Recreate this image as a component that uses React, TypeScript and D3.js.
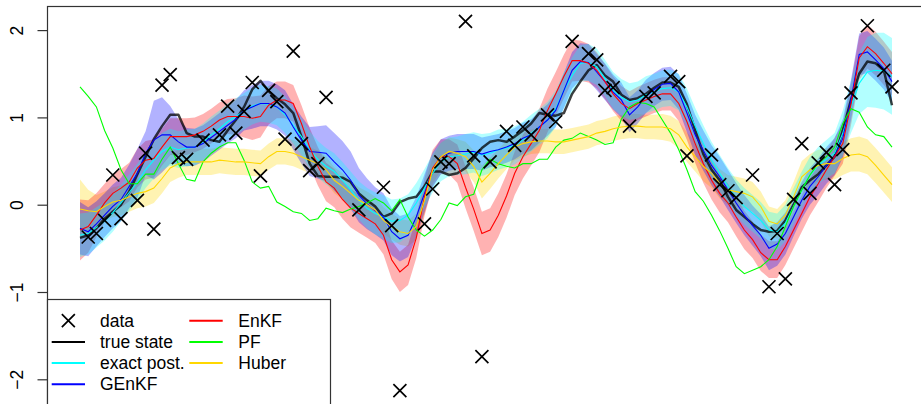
import React, { useEffect, useRef } from "react";
import * as d3 from "d3";

// time steps 1..100, one value per step
const trueState = [
  -0.38, -0.35, -0.27, -0.16, -0.08, 0.0, 0.15, 0.35, 0.55, 0.75,
  0.9, 1.03, 1.03, 0.82, 0.78, 0.78, 0.74, 0.72, 0.85, 0.97,
  1.12, 1.32, 1.42, 1.3, 1.22, 1.15, 1.05, 0.78, 0.47, 0.33,
  0.32, 0.32, 0.31, 0.26, 0.13, 0.05, -0.02, -0.14, -0.1, 0.03,
  0.07, 0.09, 0.21, 0.38, 0.38, 0.34, 0.36, 0.42, 0.53, 0.65,
  0.72, 0.74, 0.72, 0.78, 0.85, 0.93, 1.05, 1.03, 1.02, 1.05,
  1.27, 1.41, 1.54, 1.6, 1.48, 1.41, 1.26, 1.2, 1.22, 1.27,
  1.34, 1.4, 1.4, 1.35, 1.15, 0.85, 0.58, 0.4, 0.28, 0.09,
  -0.06, -0.14, -0.22, -0.29, -0.31, -0.3, -0.18, 0.0, 0.2, 0.28,
  0.35, 0.45, 0.55, 0.85, 1.2, 1.5, 1.64, 1.62, 1.54, 1.14,
];

const exactPost = [
  -0.35, -0.33, -0.26, -0.19, -0.09, 0.02, 0.14, 0.26, 0.4, 0.51,
  0.61, 0.66, 0.63, 0.65, 0.66, 0.72, 0.8, 0.87, 0.95, 1.01,
  1.07, 1.13, 1.16, 1.15, 1.12, 1.03, 0.91, 0.78, 0.63, 0.52,
  0.44, 0.38, 0.28, 0.17, 0.05, -0.04, -0.1, -0.14, -0.19, -0.18,
  -0.12, 0.02, 0.19, 0.36, 0.49, 0.55, 0.56, 0.58, 0.6, 0.57,
  0.59, 0.63, 0.65, 0.68, 0.74, 0.82, 0.89, 0.97, 1.1, 1.31,
  1.48, 1.62, 1.63, 1.58, 1.45, 1.31, 1.23, 1.18, 1.2, 1.26,
  1.29, 1.33, 1.34, 1.29, 1.12, 0.9, 0.7, 0.51, 0.36, 0.21,
  0.08, -0.02, -0.1, -0.18, -0.29, -0.31, -0.21, -0.02, 0.17, 0.34,
  0.45, 0.52, 0.59, 0.82, 1.12, 1.39, 1.52, 1.54, 1.53, 1.47,
];
const exactSpread = [
  0.25, 0.24, 0.23, 0.22, 0.22, 0.21, 0.21, 0.21, 0.21, 0.21,
  0.21, 0.21, 0.21, 0.21, 0.21, 0.21, 0.21, 0.21, 0.21, 0.21,
  0.21, 0.21, 0.21, 0.21, 0.21, 0.21, 0.21, 0.21, 0.21, 0.21,
  0.21, 0.21, 0.21, 0.21, 0.22, 0.23, 0.24, 0.25, 0.25, 0.25,
  0.24, 0.23, 0.22, 0.22, 0.22, 0.22, 0.22, 0.23, 0.23, 0.24,
  0.23, 0.23, 0.22, 0.22, 0.21, 0.21, 0.21, 0.21, 0.21, 0.21,
  0.21, 0.21, 0.21, 0.21, 0.21, 0.21, 0.21, 0.21, 0.21, 0.21,
  0.21, 0.21, 0.21, 0.21, 0.21, 0.21, 0.21, 0.21, 0.21, 0.21,
  0.21, 0.21, 0.21, 0.21, 0.21, 0.21, 0.21, 0.21, 0.21, 0.21,
  0.21, 0.22, 0.23, 0.26, 0.3, 0.35, 0.4, 0.43, 0.44, 0.44,
];

const genkf = [
  -0.27, -0.31, -0.22, -0.12, -0.02, 0.06, 0.21, 0.36, 0.59, 0.74,
  0.8, 0.8, 0.72, 0.66, 0.66, 0.7, 0.77, 0.84, 0.91, 0.98,
  1.08, 1.12, 1.16, 1.16, 1.12, 1.05, 0.89, 0.74, 0.61, 0.6,
  0.59, 0.49, 0.4, 0.28, 0.11, 0.01, -0.07, -0.14, -0.31, -0.39,
  -0.35, -0.14, 0.13, 0.4, 0.55, 0.59, 0.61, 0.61, 0.61, 0.58,
  0.61, 0.63, 0.66, 0.7, 0.76, 0.8, 0.89, 0.97, 1.08, 1.31,
  1.54, 1.64, 1.63, 1.52, 1.41, 1.29, 1.2, 1.03, 1.12, 1.24,
  1.32, 1.38, 1.39, 1.29, 1.05, 0.8, 0.62, 0.45, 0.32, 0.17,
  0.02, -0.12, -0.24, -0.35, -0.5, -0.45, -0.33, -0.14, 0.05, 0.21,
  0.32, 0.45, 0.55, 0.76, 1.2, 1.72, 1.75, 1.66, 1.56, 1.41,
];
const genkfSpread = [
  0.3, 0.28, 0.26, 0.25, 0.25, 0.25, 0.25, 0.28, 0.25, 0.45,
  0.43, 0.33, 0.26, 0.22, 0.21, 0.21, 0.21, 0.21, 0.21, 0.22,
  0.23, 0.25, 0.26, 0.26, 0.26, 0.26, 0.26, 0.27, 0.28, 0.3,
  0.32, 0.33, 0.33, 0.33, 0.31, 0.29, 0.27, 0.27, 0.27, 0.26,
  0.25, 0.23, 0.22, 0.2, 0.2, 0.2, 0.2, 0.2, 0.2, 0.19,
  0.18, 0.18, 0.18, 0.18, 0.18, 0.18, 0.18, 0.18, 0.19, 0.2,
  0.21, 0.21, 0.21, 0.21, 0.21, 0.2, 0.2, 0.2, 0.19, 0.19,
  0.19, 0.19, 0.19, 0.2, 0.22, 0.23, 0.23, 0.23, 0.23, 0.23,
  0.23, 0.23, 0.23, 0.24, 0.25, 0.25, 0.24, 0.22, 0.21, 0.21,
  0.21, 0.21, 0.21, 0.22, 0.23, 0.24, 0.24, 0.24, 0.24, 0.24,
];

const enkf = [
  -0.29, -0.25, -0.12, 0.02, 0.13, 0.19, 0.26, 0.42, 0.51, 0.53,
  0.66, 0.78, 0.78, 0.78, 0.8, 0.84, 0.9, 0.97, 1.01, 1.01,
  1.01, 0.99, 1.01, 1.14, 1.2, 1.2, 1.16, 0.93, 0.66, 0.44,
  0.26, 0.19, 0.06, -0.04, -0.1, -0.16, -0.22, -0.35, -0.63, -0.77,
  -0.69, -0.38, 0.09, 0.42, 0.55, 0.55, 0.47, 0.2, -0.05, -0.33,
  -0.29, -0.12, 0.1, 0.36, 0.55, 0.7, 0.85, 1.08, 1.27, 1.47,
  1.65, 1.65, 1.62, 1.54, 1.41, 1.27, 1.16, 1.1, 1.16, 1.2,
  1.24, 1.27, 1.27, 1.16, 0.95, 0.7, 0.47, 0.28, 0.13, 0.02,
  -0.14, -0.29, -0.4, -0.55, -0.63, -0.63, -0.48, -0.29, -0.1, 0.09,
  0.24, 0.4, 0.55, 0.7, 1.15, 1.68, 1.81, 1.73, 1.62, 1.5,
];
const enkfSpread = [
  0.35, 0.3, 0.25, 0.22, 0.22, 0.22, 0.22, 0.22, 0.22, 0.22,
  0.21, 0.21, 0.21, 0.21, 0.2, 0.2, 0.2, 0.2, 0.2, 0.21,
  0.24, 0.25, 0.24, 0.22, 0.21, 0.21, 0.21, 0.21, 0.22, 0.22,
  0.22, 0.22, 0.22, 0.22, 0.22, 0.22, 0.22, 0.22, 0.22, 0.23,
  0.23, 0.23, 0.22, 0.21, 0.2, 0.2, 0.22, 0.24, 0.25, 0.25,
  0.25, 0.25, 0.25, 0.25, 0.25, 0.25, 0.25, 0.25, 0.25, 0.25,
  0.24, 0.23, 0.22, 0.21, 0.2, 0.2, 0.2, 0.2, 0.19, 0.19,
  0.19, 0.19, 0.19, 0.2, 0.21, 0.22, 0.22, 0.22, 0.22, 0.22,
  0.22, 0.22, 0.21, 0.21, 0.21, 0.21, 0.21, 0.21, 0.21, 0.21,
  0.21, 0.21, 0.22, 0.23, 0.24, 0.25, 0.25, 0.25, 0.25, 0.25,
];

const pf = [
  1.35, 1.24, 1.12, 0.85, 0.65, 0.4, 0.24, 0.24, 0.35, 0.35,
  0.52, 0.66, 0.47, 0.29, 0.27, 0.49, 0.59, 0.66, 0.71, 0.71,
  0.51, 0.26, 0.19, 0.21, 0.03, -0.02, -0.08, -0.1, -0.18, -0.16,
  -0.04, -0.07, -0.09, -0.05, -0.02, 0.02, 0.07, 0.02, -0.07, 0.06,
  -0.14, -0.29, -0.36, -0.29, -0.17, 0.02, -0.01, 0.09, 0.12, 0.4,
  0.52, 0.47, 0.44, 0.42, 0.47, 0.47, 0.52, 0.52, 0.66, 0.74,
  0.76, 0.82, 0.78, 0.74, 0.69, 0.71, 0.98, 1.12, 1.17, 1.16,
  1.12, 0.97, 0.82, 0.63, 0.4, 0.15, 0.04, -0.12, -0.3, -0.5,
  -0.71, -0.79, -0.75, -0.71, -0.63, -0.48, -0.25, -0.02, 0.17, 0.34,
  0.47, 0.55, 0.66, 0.93, 1.1, 1.06, 0.89, 0.8, 0.78, 0.66,
];

const huber = [
  -0.05, -0.07, -0.08, -0.02, 0.03, 0.05, 0.09, 0.13, 0.15, 0.19,
  0.3, 0.42, 0.47, 0.49, 0.49, 0.49, 0.49, 0.51, 0.5, 0.49,
  0.49, 0.48, 0.47, 0.55, 0.61, 0.61, 0.59, 0.55, 0.51, 0.47,
  0.4, 0.28, 0.21, 0.13, 0.05, 0.0, -0.06, -0.18, -0.25, -0.31,
  -0.33, -0.25, 0.05, 0.4, 0.55, 0.61, 0.59, 0.55, 0.44, 0.26,
  0.36, 0.47, 0.57, 0.66, 0.7, 0.72, 0.73, 0.73, 0.72, 0.72,
  0.74, 0.76, 0.78, 0.82, 0.84, 0.87, 0.89, 0.9, 0.9, 0.89,
  0.89, 0.89, 0.87, 0.8, 0.66, 0.55, 0.44, 0.36, 0.24, 0.17,
  0.15, 0.13, 0.09, -0.02, -0.19, -0.22, -0.12, 0.09, 0.32, 0.4,
  0.45, 0.47, 0.47, 0.53, 0.57, 0.58, 0.55, 0.45, 0.34, 0.23,
];
const huberSpread = [
  0.34, 0.24, 0.19, 0.17, 0.17, 0.17, 0.17, 0.17, 0.17, 0.17,
  0.17, 0.16, 0.16, 0.15, 0.15, 0.15, 0.15, 0.15, 0.15, 0.15,
  0.15, 0.15, 0.15, 0.15, 0.15, 0.15, 0.15, 0.15, 0.15, 0.15,
  0.15, 0.15, 0.15, 0.15, 0.15, 0.15, 0.15, 0.15, 0.15, 0.15,
  0.15, 0.15, 0.16, 0.16, 0.16, 0.16, 0.16, 0.17, 0.18, 0.19,
  0.18, 0.17, 0.16, 0.15, 0.15, 0.14, 0.14, 0.14, 0.14, 0.14,
  0.14, 0.14, 0.14, 0.14, 0.14, 0.14, 0.14, 0.14, 0.14, 0.14,
  0.14, 0.15, 0.15, 0.16, 0.17, 0.17, 0.17, 0.17, 0.17, 0.17,
  0.17, 0.17, 0.17, 0.17, 0.17, 0.17, 0.17, 0.17, 0.18, 0.18,
  0.18, 0.18, 0.18, 0.19, 0.19, 0.2, 0.2, 0.2, 0.2, 0.2,
];

// observations (null where nothing is visible)
const observed = [
  null, -0.37, -0.33, -0.18, 0.34, -0.16, null, 0.05, 0.59, -0.28,
  1.37, 1.49, 0.54, 0.52, null, 0.74, null, 0.8, 1.13, 0.82,
  1.07, 1.4, 0.33, 1.31, 1.18, 0.75, 1.76, 0.7, 0.39, 0.47,
  1.23, null, null, null, -0.06, null, null, 0.2, -0.24, -2.13,
  null, null, -0.22, 0.18, 0.49, 0.47, null, 2.1, 0.56, -1.74,
  0.49, null, 0.84, 0.68, 0.89, 0.8, null, 1.03, 0.95, null,
  1.87, null, 1.73, 1.66, 1.31, 1.34, null, 0.9, null, 1.24,
  1.28, null, 1.47, 1.41, 0.56, null, null, 0.57, 0.23, 0.16,
  0.08, null, 0.34, null, -0.94, -0.33, -0.85, 0.06, 0.7, 0.13,
  0.48, 0.6, 0.23, 0.63, 1.28, null, 2.05, null, 1.54, 1.35,
];

const yTicks = [-2, -1, 0, 1, 2];

const legendLeft = [
  { label: "data", color: "black", kind: "point" },
  { label: "true state", color: "black", kind: "line" },
  { label: "exact post.", color: "cyan", kind: "line" },
  { label: "GEnKF", color: "blue", kind: "line" },
];
const legendRight = [
  { label: "EnKF", color: "red", kind: "line" },
  { label: "PF", color: "#00ff00", kind: "line" },
  { label: "Huber", color: "gold", kind: "line" },
];

const W = 921, H = 404;
const FONT = "'Liberation Sans', Arial, Helvetica, sans-serif";

function cross(x: number, y: number, r: number) {
  return `M${x - r},${y - r}L${x + r},${y + r}M${x - r},${y + r}L${x + r},${y - r}`;
}

export default function App() {
  const ref = useRef<SVGSVGElement>(null);

  useEffect(() => {
    const svg = d3.select(ref.current);
    svg.selectAll("*").remove();

    const x = d3.scaleLinear().domain([1, 100]).range([80, 892]);
    const y = d3.scaleLinear().domain([-2, 2]).range([379.3, 30.1]);
    const left = 47.5, top = 6.5, right = 924.5;

    const g = svg.append("g");

    const band = (m: number[], s: number[]) =>
      d3.area<number>()
        .x((d, i) => x(i + 1))
        .y0((d, i) => y(m[i] - s[i]))
        .y1((d, i) => y(m[i] + s[i]))(m);

    const bands = [
      { m: huber, s: huberSpread, c: "gold" },
      { m: enkf, s: enkfSpread, c: "red" },
      { m: genkf, s: genkfSpread, c: "blue" },
      { m: exactPost, s: exactSpread, c: "cyan" },
    ];
    g.selectAll(".band")
      .data(bands)
      .join("path")
      .attr("class", "band")
      .attr("d", d => band(d.m, d.s))
      .attr("fill", d => d.c)
      .attr("fill-opacity", 0.3)
      .attr("stroke", "none");

    const line = d3.line<number>().x((d, i) => x(i + 1)).y(d => y(d));

    g.append("path")
      .attr("d", line(trueState))
      .attr("fill", "none")
      .attr("stroke", "black")
      .attr("stroke-opacity", 0.75)
      .attr("stroke-width", 2.5)
      .attr("stroke-linejoin", "round");

    const lines = [
      { v: exactPost, c: "cyan" },
      { v: genkf, c: "blue" },
      { v: enkf, c: "red" },
      { v: pf, c: "#00ff00" },
      { v: huber, c: "gold" },
    ];
    g.selectAll(".est")
      .data(lines)
      .join("path")
      .attr("class", "est")
      .attr("d", d => line(d.v))
      .attr("fill", "none")
      .attr("stroke", d => d.c)
      .attr("stroke-width", 1.1);

    const pts = observed
      .map((v, i) => ({ t: i + 1, v }))
      .filter(d => d.v !== null) as { t: number; v: number }[];
    g.selectAll(".obs")
      .data(pts)
      .join("path")
      .attr("class", "obs")
      .attr("d", d => cross(x(d.t), y(d.v), 6.5))
      .attr("stroke", "black")
      .attr("stroke-width", 1.7)
      .attr("fill", "none");

    // frame
    svg.append("rect")
      .attr("x", left).attr("y", top)
      .attr("width", right - left).attr("height", 500)
      .attr("fill", "none").attr("stroke", "#333").attr("stroke-width", 1.2);

    // y axis, R style with rotated labels
    const axis = svg.append("g").attr("transform", `translate(${left},0)`);
    axis.call(
      d3.axisLeft(y)
        .tickValues(yTicks)
        .tickSize(10)
        .tickFormat(d => (+d < 0 ? "\u2212" + Math.abs(+d) : String(d)))
    );
    axis.select(".domain").remove();
    axis.selectAll(".tick line").attr("stroke", "#333").attr("stroke-width", 1.2);
    axis.selectAll(".tick text")
      .attr("x", null).attr("dy", null)
      .attr("transform", "translate(-25,0) rotate(-90)")
      .attr("text-anchor", "middle")
      .attr("font-family", FONT)
      .attr("font-size", 17.5)
      .attr("fill", "black");

    // legend
    const lg = svg.append("g");
    lg.append("rect")
      .attr("x", left).attr("y", 299.5)
      .attr("width", 283).attr("height", 200)
      .attr("fill", "white").attr("stroke", "#333").attr("stroke-width", 1.2);

    const rowY = (i: number) => 320.7 + i * 21.2;
    const drawCol = (items: typeof legendLeft, x0: number, x1: number, tx: number) => {
      items.forEach((it, i) => {
        const yy = rowY(i);
        if (it.kind === "point") {
          lg.append("path")
            .attr("d", cross((x0 + x1) / 2, yy, 6.5))
            .attr("stroke", it.color).attr("stroke-width", 1.7);
        } else {
          lg.append("line")
            .attr("x1", x0).attr("x2", x1).attr("y1", yy).attr("y2", yy)
            .attr("stroke", it.color).attr("stroke-width", 2);
        }
        lg.append("text")
          .attr("x", tx).attr("y", yy)
          .attr("dominant-baseline", "central")
          .attr("font-family", FONT)
          .attr("font-size", 17.5)
          .text(it.label);
      });
    };
    drawCol(legendLeft, 51.7, 85, 100);
    drawCol(legendRight, 189.3, 222.7, 238.3);
  }, []);

  return (
    <svg
      ref={ref}
      width={W}
      height={H}
      style={{ position: "absolute", left: 0, top: 0, background: "white", overflow: "hidden" }}
    />
  );
}
